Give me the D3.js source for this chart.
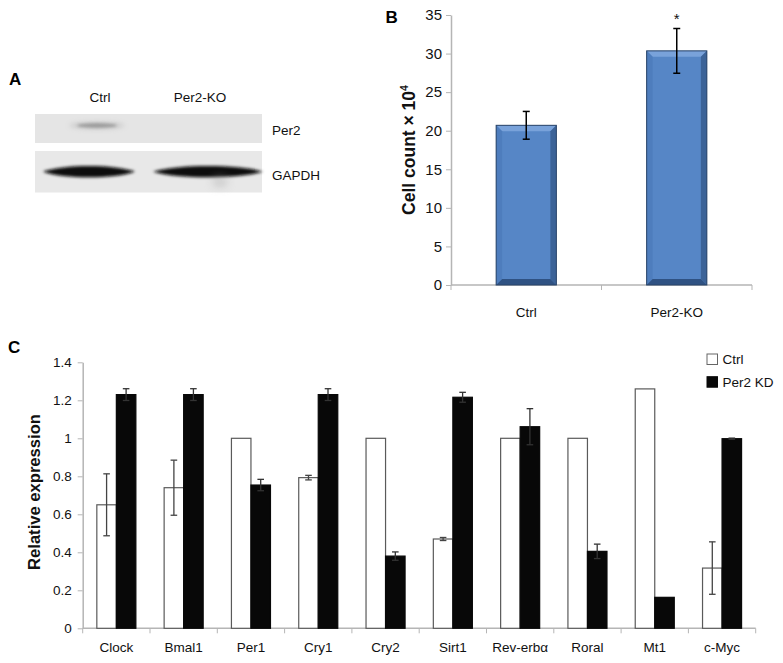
<!DOCTYPE html>
<html>
<head>
<meta charset="utf-8">
<script src="https://cdn.jsdelivr.net/npm/d3@7"></script>
<style>
  html, body { margin: 0; padding: 0; background: #fff; }
  svg { display: block; font-family: "Liberation Sans", Arial, sans-serif; }
</style>
</head>
<body>
<svg id="chart" width="783" height="663"></svg>
<script>
// ---------- DATA ----------
// Panel A (western blot labels)
const blotLanes = ["Ctrl", "Per2-KO"];
const blotRows = ["Per2", "GAPDH"];

// Panel B
const groupsB = ["Ctrl", "Per2-KO"];
const cellCount = [20.7, 30.35];
const cellCountErr = [1.8, 2.9];
const ticksB = [0, 5, 10, 15, 20, 25, 30, 35];
const sigB = ["", "*"];

// Panel C
const genes = ["Clock", "Bmal1", "Per1", "Cry1", "Cry2", "Sirt1", "Rev-erbα", "Roral", "Mt1", "c-Myc"];
const seriesC = ["Ctrl", "Per2 KD"];
const ctrlValues = [0.65, 0.74, 1.0, 0.793, 1.0, 0.47, 1.0, 1.0, 1.26, 0.317];
const ctrlErr    = [0.163, 0.145, 0, 0.012, 0, 0.008, 0, 0, 0, 0.138];
const kdValues   = [1.23, 1.23, 0.754, 1.23, 0.38, 1.216, 1.061, 0.405, 0.163, 0.998];
const kdErr      = [0.031, 0.031, 0.03, 0.031, 0.022, 0.026, 0.095, 0.038, 0, 0.003];
const ticksC = [0, 0.2, 0.4, 0.6, 0.8, 1, 1.2, 1.4];
const tickLabelsC = ["0", "0.2", "0.4", "0.6", "0.8", "1", "1.2", "1.4"];

const svg = d3.select("#chart");
const axisColor = "#b5b5b5";

// ---------- PANEL A : blot ----------
const defs = svg.append("defs");
defs.append("filter").attr("id", "blur1").attr("x", "-20%").attr("y", "-200%").attr("width", "140%").attr("height", "500%")
  .append("feGaussianBlur").attr("stdDeviation", 1.4);
defs.append("filter").attr("id", "blur2").attr("x", "-20%").attr("y", "-200%").attr("width", "140%").attr("height", "500%")
  .append("feGaussianBlur").attr("stdDeviation", 2.5);
defs.append("filter").attr("id", "blur3").attr("x", "-50%").attr("y", "-200%").attr("width", "200%").attr("height", "500%")
  .append("feGaussianBlur").attr("stdDeviation", 4);

const gA = svg.append("g");
gA.append("text").attr("x", 9).attr("y", 84.5).attr("font-size", 17).attr("font-weight", "bold").text("A");

const laneX = d3.scalePoint().domain(blotLanes).range([100, 200]);
gA.selectAll(".lane").data(blotLanes).join("text")
  .attr("x", d => laneX(d)).attr("y", 101.7).attr("text-anchor", "middle")
  .attr("font-size", 13.5).attr("fill", "#111").text(d => d);

const rowY = { "Per2": [114, 143], "GAPDH": [151, 192.5] };
const rowLabelY = { "Per2": 134.5, "GAPDH": 180 };
blotRows.forEach(r => {
  gA.append("rect").attr("x", 35).attr("y", rowY[r][0]).attr("width", 227).attr("height", rowY[r][1] - rowY[r][0])
    .attr("fill", r === "Per2" ? "#e5e5e5" : "#e8e8e8");
  gA.append("text").attr("x", 272).attr("y", rowLabelY[r]).attr("font-size", 13.5).attr("fill", "#111").text(r);
});
// Per2 faint band (ctrl lane)
gA.append("ellipse").attr("cx", 97).attr("cy", 125.5).attr("rx", 20).attr("ry", 2.2)
  .attr("fill", "#6a6a6a").attr("opacity", 0.6).attr("filter", "url(#blur1)");
gA.append("ellipse").attr("cx", 97).attr("cy", 125.5).attr("rx", 28).attr("ry", 3.5)
  .attr("fill", "#999").attr("opacity", 0.35).attr("filter", "url(#blur2)");
// GAPDH bands
gA.append("line").attr("x1", 35).attr("x2", 262).attr("y1", 171.7).attr("y2", 171.7)
  .attr("stroke", "#1a1a1a").attr("stroke-width", 2.2).attr("filter", "url(#blur1)");
function lens(cx, half, th) {
  return `M${cx - half},171.7 C${cx - half * 0.55},${171.7 - th} ${cx + half * 0.55},${171.7 - th} ${cx + half},171.7 C${cx + half * 0.55},${171.7 + th} ${cx - half * 0.55},${171.7 + th} ${cx - half},171.7Z`;
}
gA.append("path").attr("d", lens(89, 46, 7.5)).attr("fill", "#0c0c0c").attr("filter", "url(#blur1)");
gA.append("path").attr("d", lens(208, 55, 7.5)).attr("fill", "#0c0c0c").attr("filter", "url(#blur1)");
gA.append("ellipse").attr("cx", 220).attr("cy", 182).attr("rx", 8).attr("ry", 5)
  .attr("fill", "#aaa").attr("opacity", 0.5).attr("filter", "url(#blur3)");

// ---------- PANEL B ----------
const gB = svg.append("g");
const xB = d3.scaleBand().domain(groupsB).range([451, 752]).paddingInner(0.6).paddingOuter(0.3);
const yB = d3.scaleLinear().domain([0, 35]).range([285, 15]);

gB.append("text").attr("x", 385.5).attr("y", 22.7).attr("font-size", 17).attr("font-weight", "bold").text("B");

const yAxB = gB.append("g").attr("transform", "translate(451,0)")
  .call(d3.axisLeft(yB).tickValues(ticksB).tickSize(5).tickSizeOuter(0).tickPadding(4));
yAxB.select(".domain").attr("stroke", axisColor).attr("stroke-width", 1.5);
yAxB.selectAll(".tick line").attr("stroke", axisColor);
yAxB.selectAll(".tick text").attr("font-size", 15).attr("fill", "#111").attr("font-family", "Liberation Sans, Arial, sans-serif");

// x axis B
gB.append("line").attr("x1", 451).attr("x2", 752).attr("y1", yB(0)).attr("y2", yB(0)).attr("stroke", axisColor).attr("stroke-width", 1.5);
const bBounds = [xB.range()[0]].concat(groupsB.map(g => xB(g) + xB.bandwidth() + xB.step() * xB.paddingInner() / 2));
bBounds[bBounds.length - 1] = xB.range()[1];
gB.selectAll(".btick").data(bBounds).join("line")
  .attr("x1", d => d).attr("x2", d => d).attr("y1", yB(0)).attr("y2", yB(0) + 5).attr("stroke", axisColor);
gB.selectAll(".blab").data(groupsB).join("text")
  .attr("x", d => xB(d) + xB.bandwidth() / 2).attr("y", 316.5).attr("text-anchor", "middle")
  .attr("font-size", 13.5).attr("fill", "#111").text(d => d);

// bevel bars
function bevelBar(g, x, y, w, h) {
  const b = 6;
  g.append("rect").attr("x", x).attr("y", y).attr("width", w).attr("height", h).attr("fill", "#5686c6");
  g.append("polygon").attr("points", `${x},${y} ${x + w},${y} ${x + w - b},${y + b} ${x + b},${y + b}`).attr("fill", "#79a2da");
  g.append("polygon").attr("points", `${x},${y} ${x + b},${y + b} ${x + b},${y + h - b} ${x},${y + h}`).attr("fill", "#4e7dbd");
  g.append("polygon").attr("points", `${x + w},${y} ${x + w},${y + h} ${x + w - b},${y + h - b} ${x + w - b},${y + b}`).attr("fill", "#3c6398");
  g.append("polygon").attr("points", `${x},${y + h} ${x + w},${y + h} ${x + w - b},${y + h - b} ${x + b},${y + h - b}`).attr("fill", "#2f5283");
  g.append("rect").attr("x", x).attr("y", y).attr("width", w).attr("height", h).attr("fill", "none").attr("stroke", "#2a4468").attr("stroke-width", 1);
}
groupsB.forEach((gname, i) => {
  bevelBar(gB, xB(gname), yB(cellCount[i]), xB.bandwidth(), yB(0) - yB(cellCount[i]));
});
// error bars B
groupsB.forEach((gname, i) => {
  const cx = xB(gname) + xB.bandwidth() / 2;
  const hi = yB(cellCount[i] + cellCountErr[i]), lo = yB(cellCount[i] - cellCountErr[i]);
  gB.append("line").attr("x1", cx).attr("x2", cx).attr("y1", hi).attr("y2", lo).attr("stroke", "#000").attr("stroke-width", 1.5);
  [hi, lo].forEach(yy => gB.append("line").attr("x1", cx - 3.5).attr("x2", cx + 3.5).attr("y1", yy).attr("y2", yy).attr("stroke", "#000").attr("stroke-width", 1.5));
  if (sigB[i]) gB.append("text").attr("x", cx).attr("y", 24).attr("text-anchor", "middle").attr("font-size", 15).attr("fill", "#111").text(sigB[i]);
});

// y label B
const labB = gB.append("text").attr("transform", "translate(415,150) rotate(-90)").attr("text-anchor", "middle")
  .attr("font-size", 17.5).attr("font-weight", "bold").attr("fill", "#111");
labB.append("tspan").text("Cell count × 10");
labB.append("tspan").attr("font-size", 10.5).attr("dy", -7).text("4");

// ---------- PANEL C ----------
const gC = svg.append("g");
const x0 = d3.scaleBand().domain(genes).range([82.7, 755.7]).paddingInner(0.42).paddingOuter(0.21);
const x1 = d3.scaleBand().domain(seriesC).range([0, x0.bandwidth()]);
const yC = d3.scaleLinear().domain([0, 1.4]).range([628.3, 362.3]);

gC.append("text").attr("x", 8).attr("y", 353.3).attr("font-size", 17).attr("font-weight", "bold").text("C");

const yAxC = gC.append("g").attr("transform", "translate(82.7,0)")
  .call(d3.axisLeft(yC).tickValues(ticksC).tickFormat((d, i) => tickLabelsC[i]).tickSize(5).tickSizeOuter(0).tickPadding(6));
yAxC.select(".domain").attr("stroke", axisColor).attr("stroke-width", 1.5);
yAxC.selectAll(".tick line").attr("stroke", axisColor);
yAxC.selectAll(".tick text").attr("font-size", 13.5).attr("fill", "#111").attr("font-family", "Liberation Sans, Arial, sans-serif");

gC.append("line").attr("x1", 82.7).attr("x2", 755.7).attr("y1", yC(0)).attr("y2", yC(0)).attr("stroke", axisColor).attr("stroke-width", 1.5);
const cBounds = [x0.range()[0]].concat(genes.map(g => x0(g) + x0.bandwidth() + x0.step() * x0.paddingInner() / 2));
cBounds[cBounds.length - 1] = x0.range()[1];
gC.selectAll(".ctick").data(cBounds).join("line")
  .attr("x1", d => d).attr("x2", d => d).attr("y1", yC(0)).attr("y2", yC(0) + 5).attr("stroke", axisColor);
gC.selectAll(".clab").data(genes).join("text")
  .attr("x", d => x0(d) + x0.bandwidth() / 2).attr("y", 652).attr("text-anchor", "middle")
  .attr("font-size", 13.5).attr("fill", "#111").text(d => d);

const seriesData = [
  { name: "Ctrl", values: ctrlValues, err: ctrlErr, fill: "#ffffff", stroke: "#5a5a5a", errColor: "#444" },
  { name: "Per2 KD", values: kdValues, err: kdErr, fill: "#080808", stroke: "#080808", errColor: "#333" }
];
seriesData.forEach(s => {
  genes.forEach((gname, i) => {
    const v = s.values[i];
    gC.append("rect")
      .attr("x", x0(gname) + x1(s.name)).attr("y", yC(v))
      .attr("width", x1.bandwidth()).attr("height", yC(0) - yC(v))
      .attr("fill", s.fill).attr("stroke", s.stroke).attr("stroke-width", 1.2);
  });
});
seriesData.forEach(s => {
  genes.forEach((gname, i) => {
    const e = s.err[i];
    if (!e) return;
    const v = s.values[i];
    const cx = x0(gname) + x1(s.name) + x1.bandwidth() / 2;
    const hi = yC(v + e), lo = yC(v - e);
    const col = s.name === "Ctrl" ? s.errColor : "#333";
    gC.append("line").attr("x1", cx).attr("x2", cx).attr("y1", hi).attr("y2", lo).attr("stroke", col).attr("stroke-width", 1.3);
    [hi, lo].forEach(yy => gC.append("line").attr("x1", cx - 3.3).attr("x2", cx + 3.3).attr("y1", yy).attr("y2", yy).attr("stroke", col).attr("stroke-width", 1.3));
  });
});

// legend
const legY = [354, 376.7];
seriesData.forEach((s, i) => {
  gC.append("rect").attr("x", 707).attr("y", legY[i]).attr("width", 10.5).attr("height", 10.5)
    .attr("fill", s.fill).attr("stroke", s.name === "Ctrl" ? "#666" : s.stroke).attr("stroke-width", 1);
  gC.append("text").attr("x", 722.5).attr("y", legY[i] + 10.3).attr("font-size", 13.5).attr("fill", "#111").text(s.name);
});

// y label C
gC.append("text").attr("transform", "translate(40,492) rotate(-90)").attr("text-anchor", "middle")
  .attr("font-size", 16.6).attr("font-weight", "bold").attr("fill", "#111").text("Relative expression");
</script>
</body>
</html>
